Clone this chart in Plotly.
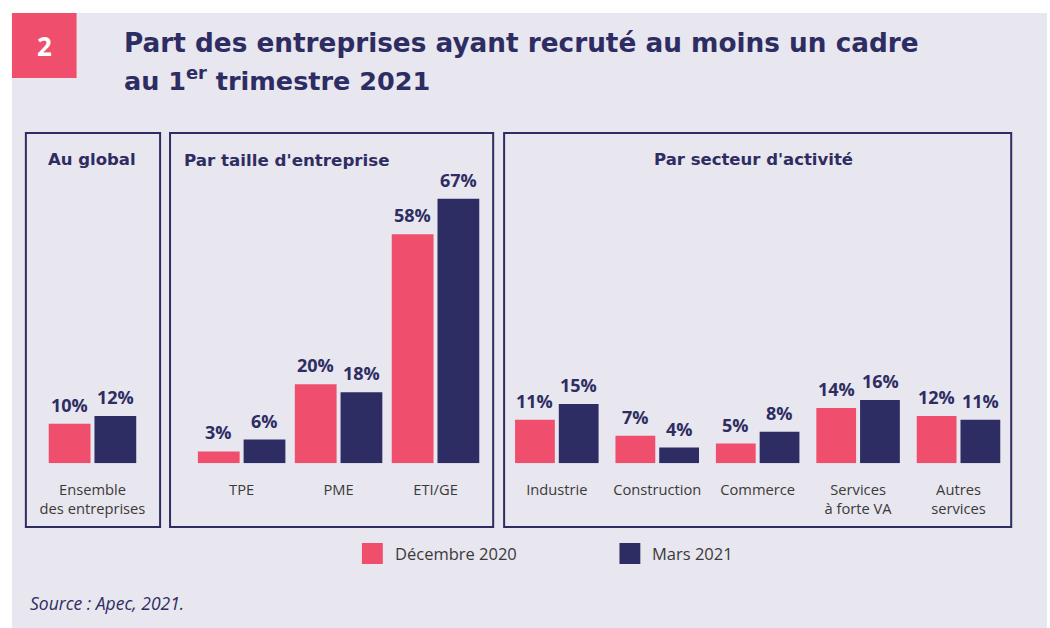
import plotly.graph_objects as go

# ---------------- data ----------------
series_names = ["Décembre 2020", "Mars 2021"]

global_cats = ["Ensemble<br>des entreprises"]
global_dec = [10]
global_mar = [12]

size_cats = ["TPE", "PME", "ETI/GE"]
size_dec = [3, 20, 58]
size_mar = [6, 18, 67]

sector_cats = ["Industrie", "Construction", "Commerce", "Services<br>à forte VA", "Autres<br>services"]
sector_dec = [11, 7, 5, 14, 12]
sector_mar = [15, 4, 8, 16, 11]

panel_titles = ["Au global", "Par taille d'entreprise", "Par secteur d'activité"]
title_line1 = "Part des entreprises ayant recruté au moins un cadre"
title_line2 = "au 1<sup>er</sup> trimestre 2021"
source_text = "Source : Apec, 2021."

# ---------------- style ----------------
W, H = 1050, 628
PINK = "#EF4E6C"
NAVY = "#2E2D63"
BG = "#E8E6EE"
GREY_TXT = "#3A3A3A"
FONT = "Open Sans"
WIDE = "DejaVu Sans"


def fx(px):
    return px / W


def fy(py):
    return 1 - py / H


BASE_PX = 463.3
PX_PER_PCT = 3.95
YMAX = 70
ydom = [fy(BASE_PX), fy(BASE_PX - YMAX * PX_PER_PCT)]

panels = [
    dict(cats=global_cats, dec=global_dec, mar=global_mar, c0=90, unit=100.0, bw=42, gap=4),
    dict(cats=size_cats, dec=size_dec, mar=size_mar, c0=240, unit=97.5, bw=42, gap=4),
    dict(cats=sector_cats, dec=sector_dec, mar=sector_mar, c0=557, unit=101.0, bw=40, gap=4),
]

fig = go.Figure()
annotations = []
layout_axes = {}

for i, p in enumerate(panels):
    idx = "" if i == 0 else str(i + 1)
    xa, ya = "x" + idx, "y" + idx
    n = len(p["cats"])
    left = p["c0"] - 0.5 * p["unit"]
    right = p["c0"] + (n - 0.5) * p["unit"]
    w = p["bw"] / p["unit"]
    g = p["gap"] / p["unit"]
    for name, vals, color, off in [(series_names[0], p["dec"], PINK, -(w + g / 2)),
                                   (series_names[1], p["mar"], NAVY, g / 2)]:
        fig.add_trace(go.Bar(
            x=p["cats"], y=vals, xaxis=xa, yaxis=ya, name=name,
            marker=dict(color=color, line=dict(width=0)),
            width=w, offset=off, showlegend=False, hoverinfo="skip",
        ))
    shift = (p["bw"] + p["gap"]) / 2
    for vals, sgn in [(p["dec"], -1), (p["mar"], 1)]:
        for c, v in zip(p["cats"], vals):
            annotations.append(dict(
                x=c, y=v, xref=xa, yref=ya, text=f"<b>{v}%</b>", showarrow=False,
                xshift=sgn * shift, yshift=19, yanchor="middle", xanchor="center",
                font=dict(family=FONT, size=18, color=NAVY),
            ))
    layout_axes["xaxis" + idx] = dict(
        domain=[fx(left), fx(right)], range=[-0.5, n - 0.5], type="category",
        showgrid=False, zeroline=False, showline=False, ticks="",
        tickfont=dict(family=FONT, size=14.7, color=GREY_TXT),
        ticklabelstandoff=16, anchor=ya, fixedrange=True,
    )
    layout_axes["yaxis" + idx] = dict(
        domain=ydom, range=[0, YMAX], visible=False, anchor=xa, fixedrange=True,
    )

# ---------------- shapes ----------------
shapes = [
    dict(type="rect", xref="paper", yref="paper", x0=fx(9), x1=1, y0=0, y1=fy(13),
         fillcolor=BG, line=dict(width=0), layer="below"),
    dict(type="rect", xref="paper", yref="paper", x0=fx(9), x1=fx(74), y0=fy(78), y1=fy(13),
         fillcolor=PINK, line=dict(width=0), layer="below"),
]
for x0, x1 in [(23, 158), (168, 493), (504, 1014)]:
    shapes.append(dict(type="rect", xref="paper", yref="paper", x0=fx(x0), x1=fx(x1),
                       y0=fy(527), y1=fy(133), line=dict(color=NAVY, width=2),
                       fillcolor="rgba(0,0,0,0)", layer="below"))

for xs, col in [(361, PINK), (620, NAVY)]:
    shapes.append(dict(type="rect", xref="paper", yref="paper", x0=fx(xs), x1=fx(xs + 21),
                       y0=fy(564), y1=fy(543), fillcolor=col, line=dict(width=0)))

# ---------------- text ----------------
annotations += [
    dict(x=fx(41.5), y=fy(46), xref="paper", yref="paper", text="<b>2</b>", showarrow=False,
         xanchor="center", yanchor="middle", font=dict(family=FONT, size=26, color="white")),
    dict(x=fx(120), y=fy(43), xref="paper", yref="paper", text=f"<b>{title_line1}</b>",
         showarrow=False, xanchor="left", yanchor="middle",
         font=dict(family=WIDE, size=26.3, color=NAVY)),
    dict(x=fx(120), y=fy(79), xref="paper", yref="paper", text=f"<b>{title_line2}</b>",
         showarrow=False, xanchor="left", yanchor="middle",
         font=dict(family=WIDE, size=25.5, color=NAVY)),
    dict(x=fx(90), y=fy(160), xref="paper", yref="paper", text=f"<b>{panel_titles[0]}</b>",
         showarrow=False, xanchor="center", yanchor="middle",
         font=dict(family=WIDE, size=16.5, color=NAVY)),
    dict(x=fx(180), y=fy(160), xref="paper", yref="paper", text=f"<b>{panel_titles[1]}</b>",
         showarrow=False, xanchor="left", yanchor="middle",
         font=dict(family=WIDE, size=16.7, color=NAVY)),
    dict(x=fx(755), y=fy(160), xref="paper", yref="paper", text=f"<b>{panel_titles[2]}</b>",
         showarrow=False, xanchor="center", yanchor="middle",
         font=dict(family=WIDE, size=16.5, color=NAVY)),
    dict(x=fx(392), y=fy(553.5), xref="paper", yref="paper", text=series_names[0],
         showarrow=False, xanchor="left", yanchor="middle",
         font=dict(family=FONT, size=16.5, color=GREY_TXT)),
    dict(x=fx(651), y=fy(553.5), xref="paper", yref="paper", text=series_names[1],
         showarrow=False, xanchor="left", yanchor="middle",
         font=dict(family=FONT, size=16.5, color=GREY_TXT)),
    dict(x=fx(25), y=fy(603), xref="paper", yref="paper", text=f"<i>{source_text}</i>",
         showarrow=False, xanchor="left", yanchor="middle",
         font=dict(family=FONT, size=17.5, color=NAVY)),
]

fig.update_layout(
    width=W, height=H, margin=dict(l=0, r=0, t=0, b=0),
    paper_bgcolor="white", plot_bgcolor="rgba(0,0,0,0)",
    barmode="overlay", showlegend=False,
    shapes=shapes, annotations=annotations,
    font=dict(family=FONT),
    **layout_axes,
)

fig.write_html(
    "out.html",
    config={"displayModeBar": False},
    post_script="document.body.style.margin='0';document.body.style.overflow='hidden';",
)
